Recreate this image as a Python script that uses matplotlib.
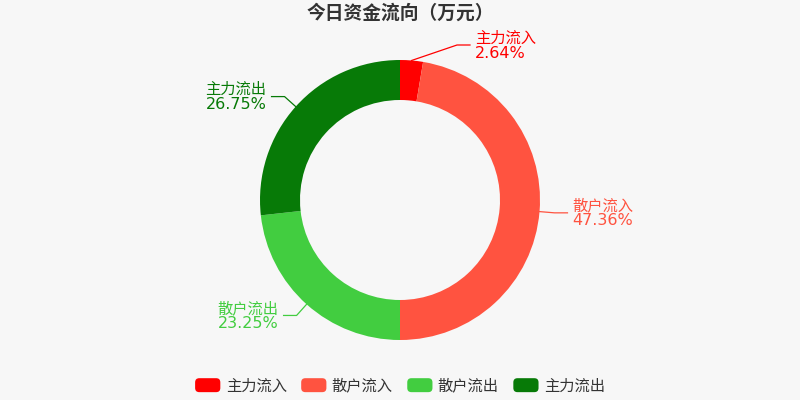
import numpy as np
import matplotlib
matplotlib.use('Agg')
import matplotlib.pyplot as plt
from matplotlib.patches import FancyBboxPatch
from matplotlib.legend_handler import HandlerPatch

plt.rcParams['font.family'] = ['Noto Sans CJK SC', 'DejaVu Sans']

# data
names = ['主力流入', '散户流入', '散户流出', '主力流出']
shares = [2.64, 47.36, 23.25, 26.75]
colors = ['#ff0000', '#ff5340', '#42cd40', '#077a07']
bg = '#f7f7f7'

fig = plt.figure(figsize=(8, 4), dpi=100, facecolor=bg)
ax = fig.add_axes([0, 0, 1, 1])
ax.set_facecolor(bg)

R = 140
wedges, _ = ax.pie(shares, radius=R, startangle=90, counterclock=False, colors=colors,
                   wedgeprops=dict(width=40, linewidth=0))
# pie() resets the limits, so set them afterwards (1 unit = 1 pixel)
ax.set_xlim(-400, 400)
ax.set_ylim(-200, 200)
ax.set_aspect('equal')
ax.axis('off')

# leader lines + labels
for i, w in enumerate(wedges):
    ang = np.deg2rad((w.theta1 + w.theta2) / 2)
    sx, sy = R * np.cos(ang), R * np.sin(ang)
    ex, ey = 155 * np.cos(ang), 155 * np.sin(ang)
    if i == 0:
        # echarts pushes the small slice label out to the right
        ex, ey = 57, 155
    side = 1 if ex >= 0 else -1
    hx = ex + side * 13
    ax.plot([sx, ex, hx], [sy, ey, ey], color=colors[i], lw=0.9)
    ha = 'left' if side > 0 else 'right'
    tx = hx + side * 5
    ax.text(tx, ey + 7, names[i], color=colors[i], fontsize=11, ha=ha, va='center',
            fontweight='light')
    ax.text(tx, ey - 8, f'{shares[i]:.2f}%', color=colors[i], fontsize=11.5, ha=ha, va='center',
            family='DejaVu Sans')

ax.text(0, 187, '今日资金流向（万元）', ha='center', va='center', fontsize=13.5,
        fontweight='bold', color='#333333')


class RoundHandler(HandlerPatch):
    def create_artists(self, legend, orig_handle, xdescent, ydescent, width, height, fontsize, trans):
        p = FancyBboxPatch((-xdescent, -ydescent - 1), width, height + 2,
                           boxstyle='round,pad=0,rounding_size=3',
                           facecolor=orig_handle.get_facecolor(), edgecolor='none',
                           transform=trans)
        return [p]


leg = ax.legend(wedges, names, loc='center', bbox_to_anchor=(0.5, 0.035), ncol=4,
                frameon=False, fontsize=11, handlelength=1.65, handleheight=0.75,
                handletextpad=0.35, columnspacing=0.95,
                handler_map={type(wedges[0]): RoundHandler()})
for t in leg.get_texts():
    t.set_color('#333333')
    t.set_fontweight('light')

fig.savefig('out.png', dpi=100, facecolor=bg)
